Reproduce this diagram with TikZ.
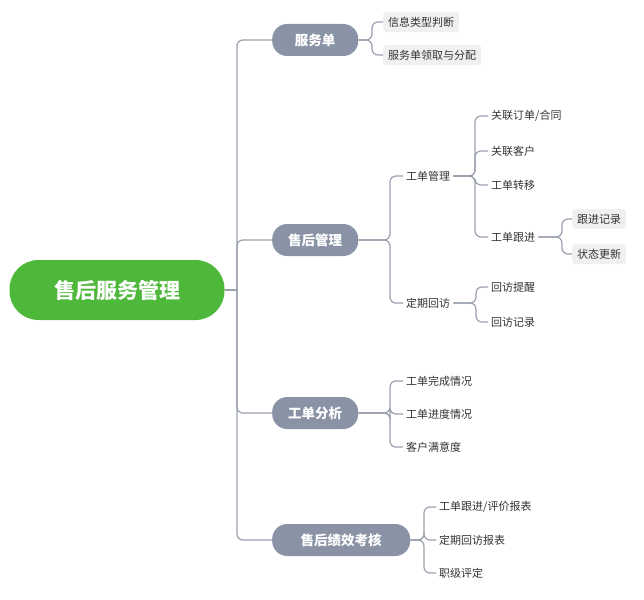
\documentclass[tikz,border=0pt]{standalone}
\usepackage{fontspec}
\setmainfont{Noto Sans CJK SC}
\usetikzlibrary{positioning}
\definecolor{rootgreen}{HTML}{4DB83A}
\definecolor{pillgray}{HTML}{8A93A5}
\definecolor{linegray}{HTML}{9AA1AD}
\definecolor{boxgray}{HTML}{F0F0F0}
\tikzset{
  root/.style={rounded corners=29pt, fill=rootgreen, text=white, font=\fontsize{21}{25}\selectfont\bfseries, minimum width=215pt, minimum height=60pt},
  main/.style={rounded corners=15pt, fill=pillgray, text=white, font=\fontsize{13.5}{15}\selectfont\bfseries, minimum height=32pt, minimum width=86pt, anchor=west},
  leaf/.style={font=\fontsize{11}{13}\selectfont, text=black!80, inner sep=3pt, anchor=west},
  boxed/.style={leaf, fill=boxgray, rounded corners=3pt, inner sep=5pt},
  link/.style={draw=linegray, line width=1.2pt, rounded corners=6pt}
}
\begin{document}
\begin{tikzpicture}[x=1pt,y=-1pt]
\useasboundingbox (0,0) rectangle (644,599);
\node[root] (R) at (117,290) {售后服务管理};
\node[main] (A) at (272,40) {服务单};
\node[main] (B) at (272,240) {售后管理};
\node[main] (C) at (272,413) {工单分析};
\node[main, minimum width=138pt] (D) at (272,540) {售后绩效考核};
% level 1
\coordinate (S) at (237,290);
\draw[link] (R.east) -- (S);
\foreach \n in {A,B,C,D}
  \draw[link] (S) |- (\n.west);
% 服务单
\node[boxed] (A1) at (383,22) {信息类型判断};
\node[boxed] (A2) at (383,55) {服务单领取与分配};
\foreach \n in {A1,A2}
  \draw[link] (A.east) -- (372,40) |- (\n.west);
% 售后管理
\node[leaf] (B1) at (403,176) {工单管理};
\node[leaf] (B2) at (403,303) {定期回访};
\foreach \n in {B1,B2}
  \draw[link] (B.east) -- (390,240) |- (\n.west);
\node[leaf] (B11) at (488,116) {关联订单/合同};
\node[leaf] (B12) at (488,151) {关联客户};
\node[leaf] (B13) at (488,185) {工单转移};
\node[leaf] (B14) at (488,237) {工单跟进};
\foreach \n in {B11,B12,B13,B14}
  \draw[link] (B1.east) -- (475,176) |- (\n.west);
\node[boxed] (B141) at (572,219) {跟进记录};
\node[boxed] (B142) at (572,254) {状态更新};
\foreach \n in {B141,B142}
  \draw[link] (B14.east) -- (562,237) |- (\n.west);
\node[leaf] (B21) at (488,287) {回访提醒};
\node[leaf] (B22) at (488,322) {回访记录};
\foreach \n in {B21,B22}
  \draw[link] (B2.east) -- (476,303) |- (\n.west);
% 工单分析
\node[leaf] (C1) at (403,381) {工单完成情况};
\node[leaf] (C2) at (403,414) {工单进度情况};
\node[leaf] (C3) at (403,447) {客户满意度};
\foreach \n in {C1,C2,C3}
  \draw[link] (C.east) -- (390,413) |- (\n.west);
% 售后绩效考核
\node[leaf] (D1) at (436,507) {工单跟进/评价报表};
\node[leaf] (D2) at (436,540) {定期回访报表};
\node[leaf] (D3) at (436,573) {职级评定};
\foreach \n in {D1,D2,D3}
  \draw[link] (D.east) -- (424,540) |- (\n.west);
\end{tikzpicture}
\end{document}
